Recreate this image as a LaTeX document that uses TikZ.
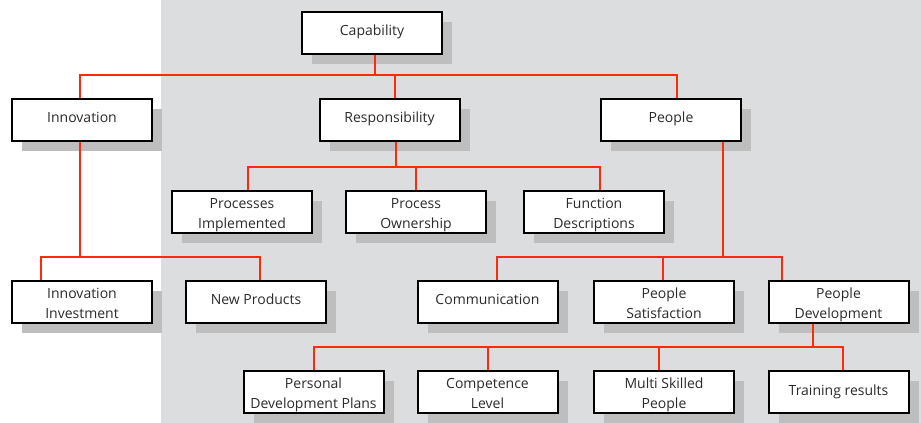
\documentclass[tikz,border=0pt]{standalone}
\usepackage{fontspec}
\setmainfont{Open Sans}
\usepackage{xcolor}
\usepackage{tikz}
\usetikzlibrary{calc,shadows}
\definecolor{cpgray}{HTML}{DCDDDF}
\definecolor{cpshade}{HTML}{BEBEBE}
\definecolor{cpred}{HTML}{FF2A0A}
\definecolor{cpink}{HTML}{2B2B2B}

\begin{document}
\begin{tikzpicture}[
  x=1pt,y=1pt,
  box/.style={draw=black,fill=white,line width=2pt,inner sep=0pt,
              minimum width=140pt,minimum height=42pt,align=center,
              text=cpink,font=\fontsize{14}{20}\selectfont,
              text height=10pt,text depth=4pt,
              drop shadow={shadow xshift=10pt,shadow yshift=-10pt,
                           fill=cpshade,opacity=1}},
  boxtwo/.style={box,text height=33pt,text depth=0pt},
  link/.style={line width=2pt,draw=cpred}
]
\useasboundingbox (0,0) rectangle (921,423);
\fill[cpgray] (161,0) rectangle (921,423);
\node[box] (cap) at (372,390) {Capability};
\node[box] (inno) at (82,303) {Innovation};
\node[box] (resp) at (389.5,303) {Responsibility};
\node[box] (ppl) at (671,303) {People};
\node[boxtwo] (procimpl) at (242,211) {Processes\\Implemented};
\node[boxtwo] (procown) at (416,211) {Process\\Ownership};
\node[boxtwo] (funcdesc) at (594,211) {Function\\Descriptions};
\node[boxtwo] (innoinv) at (82,121) {Innovation\\Investment};
\node[box] (newprod) at (256,121) {New Products};
\node[box] (comm) at (487.5,121) {Communication};
\node[boxtwo] (pplsat) at (664,121) {People\\Satisfaction};
\node[boxtwo] (ppldev) at (838.5,121) {People\\Development};
\node[boxtwo] (persdev) at (313.5,30.5) {Personal\\Development Plans};
\node[boxtwo] (comp) at (487.5,30.5) {Competence\\Level};
\node[boxtwo] (multi) at (664,30.5) {Multi Skilled\\People};
\node[box] (train) at (838.5,30.5) {Training results};
\coordinate (capBus) at ([xshift=3pt,yshift=-20pt]cap.south);
\draw[link] ([xshift=-2pt]inno.north) |- (capBus) -| ([xshift=6pt]ppl.north);
\draw[link] ([xshift=3pt]cap.south) -- (capBus);
\draw[link] ([xshift=5.5pt]resp.north) -- ([xshift=5.5pt]resp.north |- capBus);
\coordinate (respBus) at ([xshift=6.5pt,yshift=-25pt]resp.south);
\draw[link] ([xshift=6pt]procimpl.north) |- (respBus) -| ([xshift=6pt]funcdesc.north);
\draw[link] ([xshift=6.5pt]resp.south) -- (respBus);
\draw[link] (procown.north) -- (procown.north |- respBus);
\coordinate (innoBus) at ([xshift=-2pt,yshift=-115pt]inno.south);
\draw[link] ([xshift=-41pt]innoinv.north) |- (innoBus) -| ([xshift=4pt]newprod.north);
\draw[link] ([xshift=-2pt]inno.south) -- (innoBus);
\coordinate (pplBus) at ([xshift=52pt,yshift=-115pt]ppl.south);
\draw[link] ([xshift=9.5pt]comm.north) |- (pplBus);
\draw[link] (pplBus) -| ([xshift=-57pt]ppldev.north);
\draw[link] ([xshift=52pt]ppl.south) -- (pplBus);
\draw[link] ([xshift=-1pt]pplsat.north) -- ([xshift=-1pt]pplsat.north |- pplBus);
\coordinate (devBus) at ([xshift=-25.5pt,yshift=-23pt]ppldev.south);
\draw[link] (persdev.north) |- (devBus);
\draw[link] (devBus) -| ([xshift=4.5pt]train.north);
\draw[link] ([xshift=-25.5pt]ppldev.south) -- (devBus);
\draw[link] (comp.north) -- (comp.north |- devBus);
\draw[link] ([xshift=-5pt]multi.north) -- ([xshift=-5pt]multi.north |- devBus);
\end{tikzpicture}
\end{document}
